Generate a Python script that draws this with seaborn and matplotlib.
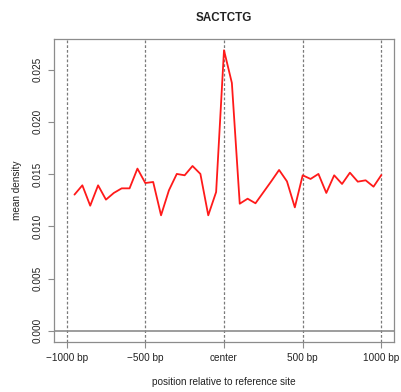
import matplotlib
matplotlib.use("Agg")
import matplotlib.pyplot as plt
import numpy as np
import pandas as pd
import seaborn as sns

# Mean motif density in 50 bp bins around the reference site
positions = [-950, -900, -850, -800, -750, -700, -650, -600, -550, -500,
             -450, -400, -350, -300, -250, -200, -150, -100, -50, 0,
             50, 100, 150, 200, 250, 300, 350, 400, 450, 500,
             550, 600, 650, 700, 750, 800, 850, 900, 950, 1000]
density = [0.01303, 0.01392, 0.01197, 0.01392, 0.01255, 0.01319, 0.01363, 0.01363, 0.01552, 0.01414,
           0.01424, 0.01105, 0.01344, 0.01501, 0.01488, 0.01577, 0.01501, 0.01105, 0.01328, 0.02685,
           0.02372, 0.01216, 0.01264, 0.01220, 0.01325, 0.01430, 0.01539, 0.01430, 0.01181, 0.01488,
           0.01453, 0.01501, 0.01319, 0.01488, 0.01405, 0.01513, 0.01427, 0.01440, 0.01379, 0.01491]

x_ticks = [-1000, -500, 0, 500, 1000]
x_tick_labels = ["\u22121000 bp", "\u2212500 bp", "center", "500 bp", "1000 bp"]
y_ticks = [0.000, 0.005, 0.010, 0.015, 0.020, 0.025]
y_tick_labels = ["0.000", "0.005", "0.010", "0.015", "0.020", "0.025"]

df = pd.DataFrame({"position": positions, "density": density})

sns.set_style("white")
plt.rcParams["font.family"] = ["Liberation Sans", "DejaVu Sans"]

fig = plt.figure(figsize=(4.01, 3.92), dpi=100)
ax = fig.add_axes([0.1347, 0.1276, 0.8478, 0.7729])

grey = "#8c8c8c"
for xv in x_ticks:
    ax.axvline(xv, color="#7a7a7a", linestyle=(0, (2.2, 1.6)), linewidth=0.9, zorder=1)
ax.axhline(0, color=grey, linewidth=1.2, zorder=1)

sns.lineplot(data=df, x="position", y="density", color="#ff1a1a",
             linewidth=1.3, ax=ax, zorder=3)

ax.set_xlim(-1080, 1080)
ymax = max(density)
ax.set_ylim(-0.04 * ymax, ymax * 1.04)

ax.set_xticks(x_ticks)
ax.set_xticklabels(x_tick_labels, fontsize=7.2, color="#222222")
ax.set_yticks(y_ticks)
ax.set_yticklabels(y_tick_labels, fontsize=7.2, color="#222222",
                   rotation=90, va="center")

ax.tick_params(axis="both", which="both", direction="out", length=4,
               width=0.8, color=grey, pad=4)
ax.tick_params(axis="x", bottom=True)
ax.tick_params(axis="y", left=True)

for side in ax.spines.values():
    side.set_visible(True)
    side.set_color(grey)
    side.set_linewidth(0.9)

ax.set_xlabel("position relative to reference site", fontsize=7.2,
              color="#222222", labelpad=10)
ax.set_ylabel("mean density", fontsize=7.2, color="#222222", labelpad=8)
ax.set_title("SACTCTG", fontsize=8.4, fontweight="bold", color="#222222", pad=13)

fig.savefig("out.png", dpi=100)
